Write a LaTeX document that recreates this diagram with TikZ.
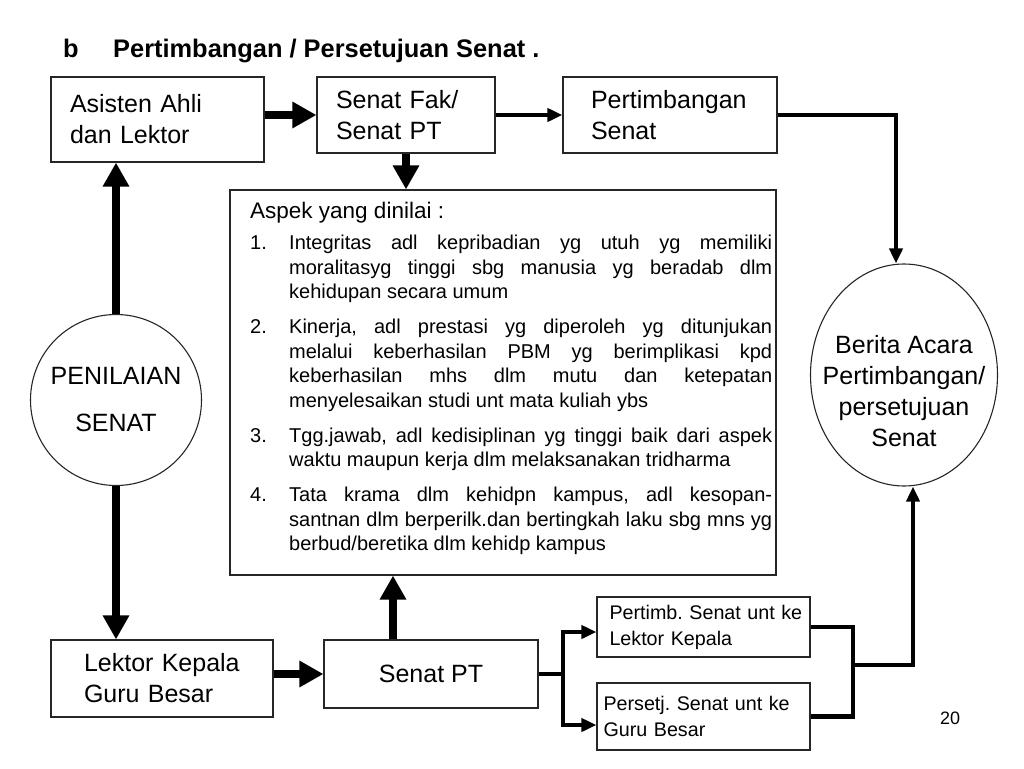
\documentclass[tikz,border=0pt]{standalone}
\usepackage{fontspec}
\setmainfont{Liberation Sans}
\usetikzlibrary{arrows.meta,shapes.geometric}
\frenchspacing

\newcommand{\besar}{\fontsize{25}{31}\selectfont}
\newcommand{\sedang}{\fontsize{20}{24.5}\selectfont}
\newcommand{\kecil}{\fontsize{19.7}{26}\selectfont}
\newcommand{\butir}[2]{\par\vspace{10.5pt}\noindent\hangindent=39pt\hangafter=1\hbox to 39pt{#1\hfil}#2\par}

\begin{document}
\begin{tikzpicture}[x=1pt,y=-1pt,>={Triangle[length=24pt,width=25pt]},
    box/.style={draw=black!85,line width=1.1pt,font=\besar,align=left,inner sep=0pt},
    heavy/.style={->,line width=8pt},
    medium/.style={line width=4.5pt,-{Triangle[length=15pt,width=13pt]}},
    joint/.style={line width=4.5pt}]

    \useasboundingbox (0,0) rectangle (1024,768);

    % Title
    \node [anchor=base west,inner sep=0pt,font=\fontsize{25.4}{30}\selectfont\bfseries] at (63,57) (huruf) {b};
    \node [anchor=base west,inner sep=0pt,font=\fontsize{25.4}{30}\selectfont\bfseries] at (113,57) (judul) {Pertimbangan / Persetujuan Senat .};

    % The graph
    \node [box,minimum width=213,minimum height=85,text width=175] at (157.5,119.5) (asisten) {Asisten Ahli\\dan Lektor};
    \node [box,minimum width=178,minimum height=76,text width=140] at (406,115) (senatfak) {Senat Fak/\\Senat PT};
    \node [box,minimum width=214,minimum height=76,text width=158] at (670,115) (pertimbangan) {Pertimbangan\\Senat};
    \node [box,minimum width=546,minimum height=385] at (503,382.5) (aspek) {};
    \node [anchor=north west,inner sep=0pt,text width=522,align=justify,font=\sedang] at (250,202) (aspektext) {%
        \tolerance=10000\hyphenpenalty=10000\hbadness=10000\relax
        {\fontsize{22.5}{24.5}\selectfont Aspek yang dinilai :}\par\vspace{-4pt}
        \butir{1.}{Integritas adl kepribadian yg utuh yg memiliki\linebreak moralitasyg tinggi sbg manusia yg beradab dlm\linebreak kehidupan secara umum}
        \butir{2.}{Kinerja, adl prestasi yg diperoleh yg ditunjukan\linebreak melalui keberhasilan PBM yg berimplikasi kpd\linebreak keberhasilan mhs dlm mutu dan ketepatan\linebreak menyelesaikan studi unt mata kuliah ybs}
        \butir{3.}{Tgg.jawab, adl kedisiplinan yg tinggi baik dari aspek\linebreak waktu maupun kerja dlm melaksanakan tridharma}
        \butir{4.}{Tata krama dlm kehidpn kampus, adl kesopan-\linebreak santnan dlm berperilk.dan bertingkah laku sbg mns yg\linebreak berbud/beretika dlm kehidp kampus}};
    \node [box,circle,minimum size=171,align=center] at (116,400) (penilaian) {PENILAIAN\\[16pt]SENAT};
    \node [box,ellipse,minimum width=187,minimum height=222] at (904,375) (berita) {};
    \node [font=\besar,align=center,inner sep=0pt] at ([yshift=-16pt]berita.center) (beritatext) {Berita Acara\\Pertimbangan/\\persetujuan\\Senat};
    \node [box,minimum width=222,minimum height=77,text width=156] at (162,678.5) (lektorkepala) {Lektor Kepala\\Guru Besar};
    \node [box,minimum width=214,minimum height=68,align=center] at (431,674) (senatpt) {Senat PT};
    \node [box,minimum width=213,minimum height=60,text width=200,font=\kecil] at (703.5,627) (pertimbsenat) {\hspace*{6pt}Pertimb. Senat unt ke\\\hspace*{6pt}Lektor Kepala};
    \node [box,minimum width=213,minimum height=67,text width=200,font=\kecil] at (703.5,716.5) (persetsenat) {Persetj. Senat unt ke\\Guru Besar};
    \node [anchor=base west,inner sep=0pt,font=\fontsize{18}{20}\selectfont] at (940,724) (halaman) {20};

    \coordinate (cabang) at (563,674);
    \coordinate (gabung) at (853,665);

    % Graph edges
    \path[heavy]
    (asisten.east |- senatfak.west) edge (senatfak.west)
    (senatfak.south) edge (senatfak.south |- aspek.north)
    (penilaian.north) edge (penilaian.north |- asisten.south)
    (penilaian.south) edge (penilaian.south |- lektorkepala.north)
    (lektorkepala.east |- senatpt.west) edge (senatpt.west)
    ([xshift=-38pt]senatpt.north) edge ([xshift=-38pt]senatpt.north |- aspek.south);

    \path[medium] (senatfak) edge (pertimbangan);
    \draw[medium] (pertimbangan.east) -| ([xshift=-8pt]berita.north);

    \draw[joint] (senatpt.east) -- (cabang);
    \draw[medium] (cabang) |- ([yshift=-5pt]pertimbsenat.west);
    \draw[medium] (cabang) |- ([yshift=-8.5pt]persetsenat.west);

    \draw[joint] (pertimbsenat.east) -| (gabung);
    \draw[joint] (persetsenat.east) -| (gabung);
    \draw[medium] (gabung) -| ([xshift=9pt]berita.south);

\end{tikzpicture}
\end{document}
